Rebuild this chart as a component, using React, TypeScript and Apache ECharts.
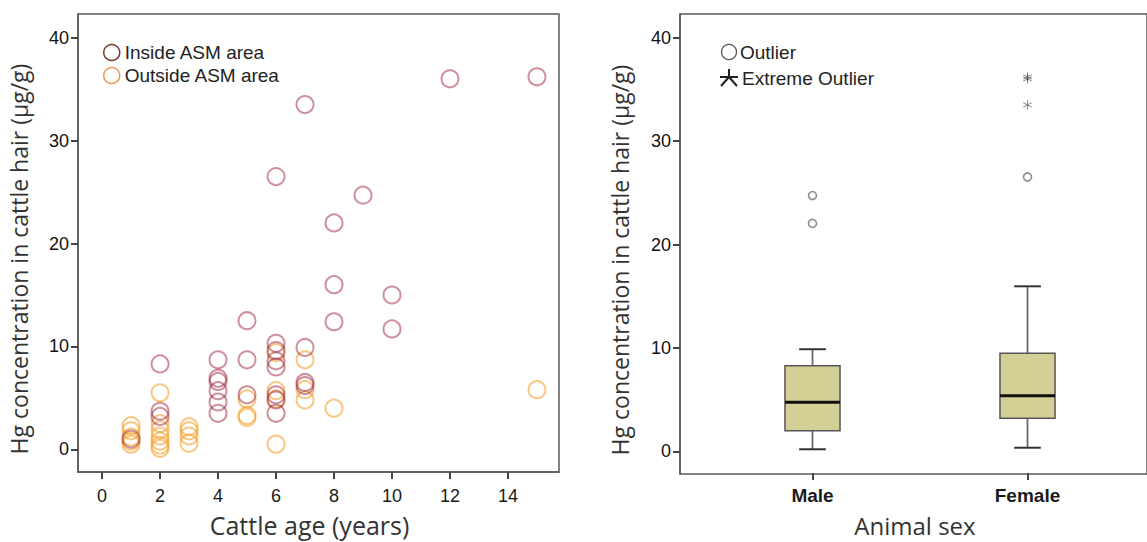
import React, { useEffect, useRef } from "react";
import * as echarts from "echarts";

// ---- Left panel data: Hg concentration vs cattle age ----
const insideAge = [1, 2, 2, 2, 4, 4, 4, 4, 4, 4, 5, 5, 5, 6, 6, 6, 6, 6, 6, 6, 6, 7, 7, 7, 7, 8, 8, 8, 9, 10, 10, 12, 15];
const insideHg = [1.0, 8.3, 3.7, 3.2, 8.7, 6.9, 6.6, 5.7, 4.6, 3.5, 12.5, 8.7, 5.3, 26.5, 10.3, 9.6, 8.6, 8.0, 5.3, 4.8, 3.5, 33.5, 9.9, 6.5, 6.2, 22.0, 16.0, 12.4, 24.7, 15.0, 11.7, 36.0, 36.2];
const outsideAge = [1, 1, 1, 1, 1, 2, 2, 2, 2, 2, 2, 2, 3, 3, 3, 3, 5, 5, 5, 6, 6, 6, 6, 7, 7, 7, 8, 15];
const outsideHg = [2.3, 1.8, 1.2, 0.8, 0.5, 5.5, 2.5, 1.9, 1.3, 0.8, 0.4, 0.1, 2.2, 1.8, 1.3, 0.6, 4.9, 3.3, 3.1, 9.4, 5.7, 4.9, 0.5, 8.7, 5.8, 4.8, 4.0, 5.8];

const ageTicks = [0, 2, 4, 6, 8, 10, 12, 14];
const hgTicks = [0, 10, 20, 30, 40];

// ---- Right panel data: box plot by animal sex ----
const sexCategories = ["Male", "Female"];
// [low whisker, Q1, median, Q3, high whisker]
const boxStats = [
  [0.1, 1.9, 4.65, 8.2, 9.8],
  [0.25, 3.1, 5.3, 9.4, 15.9],
];
const outlierSex = ["Male", "Male", "Female"];
const outlierHg = [24.7, 22.0, 26.5];
const extremeSex = ["Female", "Female", "Female"];
const extremeHg = [36.0, 36.2, 33.5];

const ASTERISK =
  "path://M-1,-10 L1,-10 L1,10 L-1,10 Z M-9.16,-4.13 L-8.16,-5.87 L9.16,4.13 L8.16,5.87 Z M8.16,-5.87 L9.16,-4.13 L-8.16,5.87 L-9.16,4.13 Z";

const FRAME = "#5a5a5a";
const TICK = "#444";
const TICK_FONT = "'Liberation Sans', Arial, sans-serif";
const NAME_FONT = "'Open Sans', 'Noto Sans', sans-serif";

export default function App() {
  const ref = useRef<HTMLDivElement>(null);

  useEffect(() => {
    if (!ref.current) return;
    const chart = echarts.init(ref.current, undefined, { renderer: "svg" });

    const yMin = -2.2;
    const yMax = 42.3;

    const valueYAxis = (gridIndex: number, showLabels: boolean, name: string, gap: number) => ({
      type: "value",
      gridIndex,
      min: yMin,
      max: yMax,
      name: showLabels ? name : "",
      nameLocation: "middle",
      nameGap: gap,
      nameTextStyle: { fontFamily: NAME_FONT, fontSize: 23, color: "#333", padding: [0, 32, 0, 0] },
      splitLine: { show: false },
      axisLine: { show: showLabels, onZero: false, lineStyle: { color: FRAME, width: 1.5 } },
      axisTick: { show: showLabels, inside: false, length: 7, lineStyle: { color: TICK, width: 2 }, customValues: hgTicks },
      axisLabel: {
        show: showLabels,
        customValues: hgTicks,
        fontFamily: TICK_FONT,
        fontSize: 18,
        color: "#111",
        margin: 9,
      },
    });

    const option: any = {
      animation: false,
      backgroundColor: "#ffffff",
      grid: [
        { left: 78, top: 14, width: 481, height: 460, show: true, borderColor: FRAME, borderWidth: 1.5, backgroundColor: "transparent" },
        { left: 680, top: 14, width: 490, height: 460, show: true, borderColor: FRAME, borderWidth: 1.5, backgroundColor: "transparent" },
        { left: 705, top: 14, width: 430, height: 460, show: false },
      ],
      xAxis: [
        {
          type: "value",
          gridIndex: 0,
          min: -0.83,
          max: 15.76,
          name: "Cattle age (years)",
          nameLocation: "middle",
          nameGap: 40,
          nameTextStyle: { fontFamily: NAME_FONT, fontSize: 25, color: "#333", padding: [0, 18, 0, 0] },
          splitLine: { show: false },
          axisLine: { show: true, onZero: false, lineStyle: { color: FRAME, width: 1.5 } },
          axisTick: { show: true, inside: false, length: 7, lineStyle: { color: TICK, width: 2 }, customValues: ageTicks },
          axisLabel: { customValues: ageTicks, fontFamily: TICK_FONT, fontSize: 18, color: "#1a1a1a", margin: 15 },
        },
        { type: "value", gridIndex: 1, min: 0, max: 1, show: false },
        {
          type: "category",
          gridIndex: 2,
          data: sexCategories,
          name: "Animal sex",
          nameLocation: "middle",
          nameGap: 40,
          nameTextStyle: { fontFamily: NAME_FONT, fontSize: 24, color: "#333", padding: [0, 10, 0, 0] },
          axisLine: { show: false, onZero: false },
          axisTick: { show: true, inside: false, alignWithLabel: true, length: 7, lineStyle: { color: TICK, width: 2 } },
          axisLabel: { fontFamily: TICK_FONT, fontSize: 19, fontWeight: "bold", color: "#1a1a1a", margin: 13 },
          splitLine: { show: false },
        },
      ],
      yAxis: [
        valueYAxis(0, true, "Hg concentration in cattle hair (µg/g)", 48),
        valueYAxis(1, true, "Hg concentration in cattle hair (µg/g)", 49),
        valueYAxis(2, false, "", 0),
      ],
      legend: {
        orient: "vertical",
        left: 103,
        top: 43,
        padding: 0,
        itemWidth: 16,
        itemHeight: 16,
        itemGap: 4,
        icon: "circle",
        textStyle: { fontFamily: TICK_FONT, fontSize: 19, lineHeight: 16, color: "#222" },
        data: [
          { name: "Inside ASM area", itemStyle: { color: "#ffffff", borderColor: "#7d3a30", borderWidth: 1.5, opacity: 1 } },
          { name: "Outside ASM area", itemStyle: { color: "#ffffff", borderColor: "#ea9a55", borderWidth: 1.5, opacity: 1 } },
        ],
      },
      graphic: [
        { type: "circle", shape: { cx: 729, cy: 52, r: 7.5 }, style: { fill: "#fff", stroke: "#555", lineWidth: 1.3 } },
        { type: "text", x: 740, y: 52, style: { text: "Outlier", fontFamily: TICK_FONT, fontSize: 19, fill: "#222", verticalAlign: "middle" } },
        { type: "line", shape: { x1: 729, y1: 69, x2: 729, y2: 78 }, style: { stroke: "#222", lineWidth: 2 } },
        { type: "line", shape: { x1: 720, y1: 77, x2: 738, y2: 77 }, style: { stroke: "#222", lineWidth: 2 } },
        { type: "line", shape: { x1: 729, y1: 77, x2: 721, y2: 86 }, style: { stroke: "#222", lineWidth: 2 } },
        { type: "line", shape: { x1: 729, y1: 77, x2: 737, y2: 86 }, style: { stroke: "#222", lineWidth: 2 } },
        { type: "text", x: 742, y: 78, style: { text: "Extreme Outlier", fontFamily: TICK_FONT, fontSize: 19, fill: "#222", verticalAlign: "middle" } },
      ],
      series: [
        {
          name: "Inside ASM area",
          type: "scatter",
          xAxisIndex: 0,
          yAxisIndex: 0,
          symbol: "circle",
          symbolSize: 17,
          itemStyle: { color: "transparent", borderColor: "rgba(155,32,52,0.62)", borderWidth: 2 },
          data: insideAge.map((a, i) => [a, insideHg[i]]),
          z: 3,
        },
        {
          name: "Outside ASM area",
          type: "scatter",
          xAxisIndex: 0,
          yAxisIndex: 0,
          symbol: "circle",
          symbolSize: 17,
          itemStyle: { color: "transparent", borderColor: "rgba(245,158,38,0.72)", borderWidth: 2 },
          data: outsideAge.map((a, i) => [a, outsideHg[i]]),
          z: 2,
        },
        {
          type: "custom",
          xAxisIndex: 2,
          yAxisIndex: 2,
          dimensions: ["sex", "low", "q1", "median", "q3", "high"],
          encode: { x: 0, y: [1, 2, 3, 4, 5] },
          data: boxStats.map((s, i) => [i, ...s]),
          renderItem: (params: any, api: any) => {
            const idx = api.value(0);
            const low = api.coord([idx, api.value(1)]);
            const q1 = api.coord([idx, api.value(2)]);
            const med = api.coord([idx, api.value(3)]);
            const q3 = api.coord([idx, api.value(4)]);
            const high = api.coord([idx, api.value(5)]);
            const band = api.size([1, 0])[0];
            const hw = band * 0.128;
            const cw = band * 0.062;
            const x = low[0];
            const whisker = { stroke: "#6a6a6a", lineWidth: 1.8 };
            const cap = { stroke: "#333", lineWidth: 2 };
            return {
              type: "group",
              children: [
                { type: "line", shape: { x1: x, y1: high[1], x2: x, y2: q3[1] }, style: whisker },
                { type: "line", shape: { x1: x, y1: q1[1], x2: x, y2: low[1] }, style: whisker },
                { type: "line", shape: { x1: x - cw, y1: high[1], x2: x + cw, y2: high[1] }, style: cap },
                { type: "line", shape: { x1: x - cw, y1: low[1], x2: x + cw, y2: low[1] }, style: cap },
                {
                  type: "rect",
                  shape: { x: x - hw, y: q3[1], width: hw * 2, height: q1[1] - q3[1] },
                  style: { fill: "#d4cf95", stroke: "#555", lineWidth: 1.5 },
                },
                { type: "line", shape: { x1: x - hw, y1: med[1], x2: x + hw, y2: med[1] }, style: { stroke: "#111", lineWidth: 3 } },
              ],
            };
          },
        },
        {
          type: "scatter",
          xAxisIndex: 2,
          yAxisIndex: 2,
          symbol: "circle",
          symbolSize: 8,
          itemStyle: { color: "#fff", borderColor: "#707070", borderWidth: 1.6 },
          data: outlierSex.map((s, i) => [s, outlierHg[i]]),
        },
        {
          type: "scatter",
          xAxisIndex: 2,
          yAxisIndex: 2,
          symbol: ASTERISK,
          symbolSize: 9,
          itemStyle: { color: "rgba(50,50,50,0.75)" },
          data: extremeSex.map((s, i) => [s, extremeHg[i]]),
        },
      ],
    };

    chart.setOption(option);
    return () => chart.dispose();
  }, []);

  return (
    <div
      ref={ref}
      style={{ position: "fixed", left: 0, top: 0, width: 1147, height: 542, background: "#fff" }}
    />
  );
}
